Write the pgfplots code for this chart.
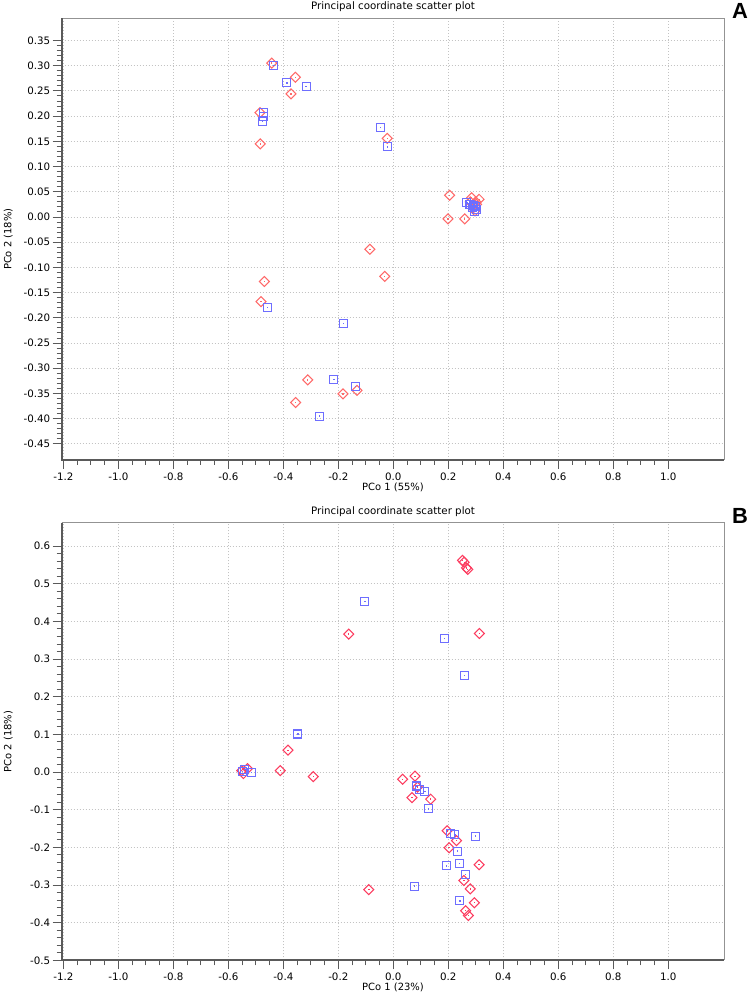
\documentclass[border=0pt]{standalone}
\usepackage{fontspec}
\setmainfont{DejaVu Sans}
\newfontfamily\lab{Liberation Sans}
\usepackage{pgfplots}
\pgfplotsset{compat=1.18}
\definecolor{redA}{RGB}{255,105,105}
\definecolor{redB}{RGB}{252,60,95}
\definecolor{blueC}{RGB}{110,110,255}
\definecolor{gridc}{RGB}{195,195,195}
\definecolor{axc}{RGB}{90,90,90}
\pgfdeclareplotmark{sqd}{%
 \pgfpathrectangle{\pgfqpoint{-\pgfplotmarksize}{-\pgfplotmarksize}}{\pgfqpoint{2\pgfplotmarksize}{2\pgfplotmarksize}}%
 \pgfusepathqstroke
 \pgfpathrectangle{\pgfqpoint{-0.7pt}{-0.7pt}}{\pgfqpoint{1.4pt}{1.4pt}}%
 \pgfusepathqfill}
\pgfdeclareplotmark{dmd}{%
 \pgfpathmoveto{\pgfqpoint{0pt}{\pgfplotmarksize}}%
 \pgfpathlineto{\pgfqpoint{\pgfplotmarksize}{0pt}}%
 \pgfpathlineto{\pgfqpoint{0pt}{-\pgfplotmarksize}}%
 \pgfpathlineto{\pgfqpoint{-\pgfplotmarksize}{0pt}}%
 \pgfpathclose\pgfusepathqstroke
 \pgfpathrectangle{\pgfqpoint{-0.7pt}{-0.7pt}}{\pgfqpoint{1.4pt}{1.4pt}}%
 \pgfusepathqfill}
\pgfplotsset{
 pcostyle/.style={
  scale only axis, width=662.6bp,
  xmin=-1.206, xmax=1.204,
  xtick={-1.2,-1,-0.8,-0.6,-0.4,-0.2,0,0.2,0.4,0.6,0.8,1},
  minor x tick num=3,
  xtick pos=bottom, ytick pos=left, tick align=outside,
  major tick length=9bp, minor tick length=5bp,
  tick style={color=axc, line width=0.9bp},
  grid=major,
  major grid style={color=gridc, line width=0.9bp, dash pattern=on 1bp off 2bp},
  axis line style={draw=none},
  tick label style={font=\fontsize{10.3}{12}\selectfont, /pgf/number format/assume math mode=true},
  xticklabel style={/pgf/number format/.cd, fixed, fixed zerofill, precision=1, assume math mode=true},
  yticklabel style={xshift=1bp},
  clip=false,
 },
 redmk/.style={only marks, color=#1, mark=dmd, mark size=5bp, mark options={solid, draw=#1, fill=#1, line width=1.05bp}},
 bluemk/.style={only marks, color=blueC, mark=sqd, mark size=4bp, mark options={solid, draw=blueC, fill=blueC, line width=1.05bp}},
}
\begin{document}
\begin{tikzpicture}
\path[use as bounding box] (0bp,0bp) rectangle (749bp,992bp);
% ---------------- Panel A
\begin{axis}[pcostyle, name=axA, at={(61.7bp,532bp)}, anchor=south west,
  height=441.7bp, ymin=-0.482, ymax=0.394,
  ytick={-0.45,-0.4,-0.35,-0.3,-0.25,-0.2,-0.15,-0.1,-0.05,0,0.05,0.1,0.15,0.2,0.25,0.3,0.35},
  minor y tick num=4,
  yticklabel style={/pgf/number format/.cd, fixed, fixed zerofill, precision=2, assume math mode=true},
]
\addplot[redmk=redA] coordinates {
(-0.442,0.305) (-0.356,0.277) (-0.372,0.244) (-0.485,0.207) (-0.484,0.145)
(-0.022,0.156) (0.205,0.043) (0.199,-0.004) (0.260,-0.004) (0.285,0.038)
(0.312,0.035) (0.303,0.025) (0.291,0.018) (0.297,0.012) (0.300,0.030)
(0.280,0.030) (-0.085,-0.064) (-0.031,-0.118) (-0.469,-0.128) (-0.481,-0.168)
(-0.311,-0.323) (-0.132,-0.344) (-0.183,-0.351) (-0.355,-0.368)
};
\addplot[bluemk] coordinates {
(-0.434,0.300) (-0.387,0.266) (-0.317,0.259) (-0.471,0.207) (-0.473,0.199)
(-0.475,0.189) (-0.047,0.177) (-0.020,0.139) (0.268,0.028) (0.279,0.025)
(0.293,0.022) (0.303,0.015) (0.287,0.018) (0.297,0.011) (0.300,0.020)
(-0.458,-0.179) (-0.180,-0.211) (-0.216,-0.322) (-0.137,-0.336) (-0.268,-0.395)
};
\end{axis}
% ---------------- Panel B
\begin{axis}[pcostyle, name=axB, at={(61.7bp,31.6bp)}, anchor=south west,
  height=437.7bp, ymin=-0.5, ymax=0.662,
  ytick={-0.5,-0.4,-0.3,-0.2,-0.1,0,0.1,0.2,0.3,0.4,0.5,0.6},
  minor y tick num=4,
  yticklabel style={/pgf/number format/.cd, fixed, fixed zerofill, precision=1, assume math mode=true},
]
\addplot[redmk=redB] coordinates {
(0.252,0.562) (0.258,0.557) (0.266,0.542) (0.271,0.538) (0.313,0.368)
(-0.162,0.366) (-0.383,0.058) (-0.411,0.004) (-0.291,-0.012)
(-0.551,0.004) (-0.545,-0.004) (-0.530,0.009)
(0.034,-0.019) (0.079,-0.011) (0.088,-0.040) (0.068,-0.068) (0.136,-0.072)
(0.196,-0.156) (0.230,-0.182) (0.203,-0.201) (0.312,-0.246) (0.257,-0.288)
(0.280,-0.310) (0.295,-0.347) (-0.089,-0.312) (0.263,-0.368) (0.273,-0.381)
};
\addplot[bluemk] coordinates {
(-0.103,0.452) (0.187,0.355) (0.258,0.257) (-0.347,0.101)
(-0.548,0.002) (-0.540,0.006) (-0.515,-0.001)
(0.083,-0.037) (0.095,-0.046) (0.115,-0.052) (0.127,-0.098)
(0.209,-0.163) (0.224,-0.167) (0.300,-0.170) (0.233,-0.210)
(0.193,-0.249) (0.241,-0.242) (0.263,-0.272) (0.078,-0.303) (0.242,-0.342)
};
\end{axis}
% frames, titles, labels
\foreach \ax/\xl in {axA/{PCo 1 (55\%)}, axB/{PCo 1 (23\%)}}{
  \draw[color=gray!85, line width=1.1bp] (\ax.north west) -- (\ax.north east) -- (\ax.south east);
  \draw[color=axc, line width=1.8bp] (\ax.north west) -- (\ax.south west) -- (\ax.south east);
  \node[font=\fontsize{10.3}{12}\selectfont, anchor=center] at ([yshift=11.5bp]\ax.north) {Principal coordinate scatter plot};
  \node[font=\fontsize{10}{12}\selectfont, anchor=center] at ([yshift=-27bp]\ax.south) {\xl};
  \node[font=\fontsize{10}{12}\selectfont, anchor=center, rotate=90] at ([xshift=-53.5bp]\ax.west) {PCo 2 (18\%)};
}
\node[font=\lab\bfseries\fontsize{22}{22}\selectfont] at (740bp,980.7bp) {A};
\node[font=\lab\bfseries\fontsize{22}{22}\selectfont] at (740bp,476.3bp) {B};
\end{tikzpicture}
\end{document}
